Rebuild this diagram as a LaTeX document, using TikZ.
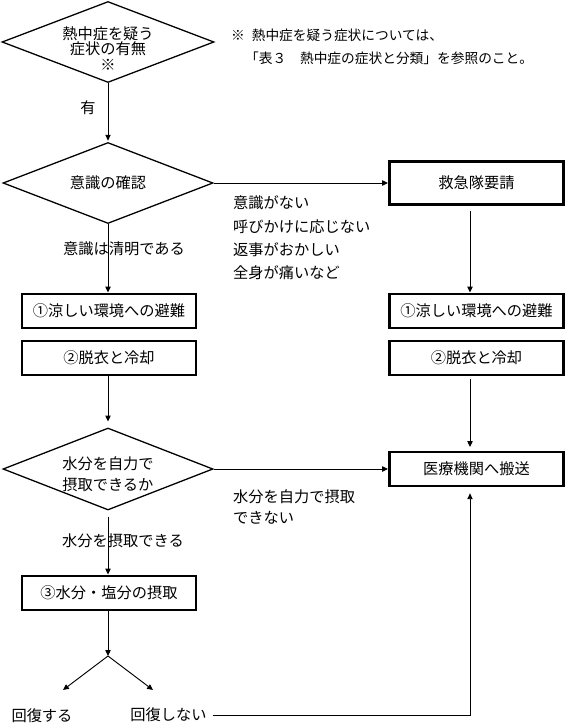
\documentclass[tikz,border=0pt]{standalone}
\usepackage{fontspec}
\setmainfont{Noto Sans CJK JP}
\usetikzlibrary{arrows.meta,shapes.geometric}

\begin{document}
\begin{tikzpicture}[x=0.03cm,y=-0.03cm,
  txt/.style={inner sep=0pt,font=\fontsize{13pt}{15pt}\selectfont},
  note/.style={inner sep=0pt,font=\fontsize{11.7pt}{14pt}\selectfont},
  dia/.style={draw,diamond,line width=1.1pt,inner sep=0pt},
  box/.style={draw,line width=2.5pt,minimum width=5.22cm,minimum height=1.02cm,inner sep=0pt,font=\fontsize{13pt}{15pt}\selectfont},
  arr/.style={line width=0.8pt,-{Triangle[length=5pt,width=4.5pt]}}]
\useasboundingbox (0,0) rectangle (566,723);
\coordinate (rc) at (470,0);
\node[dia,minimum width=6.36cm,minimum height=2.43cm] (d1) at (108,42) {};
\node[dia,minimum width=6.3cm,minimum height=2.43cm] (d2) at (108,183) {};
\node[dia,minimum width=6.3cm,minimum height=2.46cm] (d3) at (108,469) {};
\node[txt,align=center,font=\fontsize{13pt}{13.2pt}\selectfont] (d1t) at (108,48.5) {熱中症を疑う\\症状の有無\\※};
\node[txt] (d2t) at (108,183) {意識の確認};
\node[txt,align=left,font=\fontsize{13pt}{13.2pt}\selectfont] (d3t) at (108,474.5) {水分を自力で\\[5pt]摂取できるか};
\node[note,anchor=west] (note1) at (231,35) {※\hspace{0.5em}熱中症を疑う症状については、};
\node[note,anchor=west] (note2) at (245,58) {「表３　熱中症の症状と分類」を参照のこと。};
\node[box,minimum height=1.29cm] (q) at (476.5,183) {救急隊要請};
\node[box] (s1) at (109,311) {①涼しい環境への避難};
\node[box] (s2) at (109,358) {②脱衣と冷却};
\node[box] (r1) at (476.5,311) {①涼しい環境への避難};
\node[box] (r2) at (476.5,358) {②脱衣と冷却};
\node[box] (iryo) at (476.5,469) {医療機関へ搬送};
\node[box] (s3) at (109,593) {③水分・塩分の摂取};
\node[txt] (yu) at (88,108) {有};
\node[txt,anchor=west] (meiryo) at (63,249) {意識は清明である};
\foreach \yy/\label [count=\i] in {203/意識がない,227/呼びかけに応じない,250/返事がおかしい,273/全身が痛いなど}
  \node[txt,anchor=west] (nai\i) at (233,\yy) {\label};
\node[txt,anchor=west] (fuka1) at (233,497) {水分を自力で摂取};
\node[txt,anchor=west] (fuka2) at (233,518) {できない};
\node[txt,anchor=west] (kano) at (62,541) {水分を摂取できる};
\node[txt] (ok) at (42,716) {回復する};
\node[txt,inner xsep=5pt] (ng) at (168.5,715) {回復しない};
\coordinate (fork) at (108,656);
\coordinate (okend) at (63,690);
\coordinate (ngend) at (153,690);
\draw[arr,shorten >=1pt] (d1) -- (d2);
\draw[arr] (d2) -- (d2 |- s1.north);
\draw[arr] (d2) -- (q);
\draw[arr,shorten <=4pt] (q.south -| rc) -- (r1.north -| rc);
\draw[arr,shorten <=2pt,shorten >=3pt] (r2.south -| rc) -- (iryo.north -| rc);
\draw[arr,shorten >=5pt] (s2.south -| d3) -- (d3);
\draw[arr] (d3) -- (iryo);
\draw[arr,shorten <=5pt] (d3) -- (d3 |- s3.north);
\draw[arr] (s3.south -| fork) -- (fork);
\draw[arr] (fork) -- (okend);
\draw[arr] (fork) -- (ngend);
\draw[arr,shorten >=5pt] (ng.east) -- (ng.east -| rc) -- (iryo.south -| rc);
\end{tikzpicture}
\end{document}
